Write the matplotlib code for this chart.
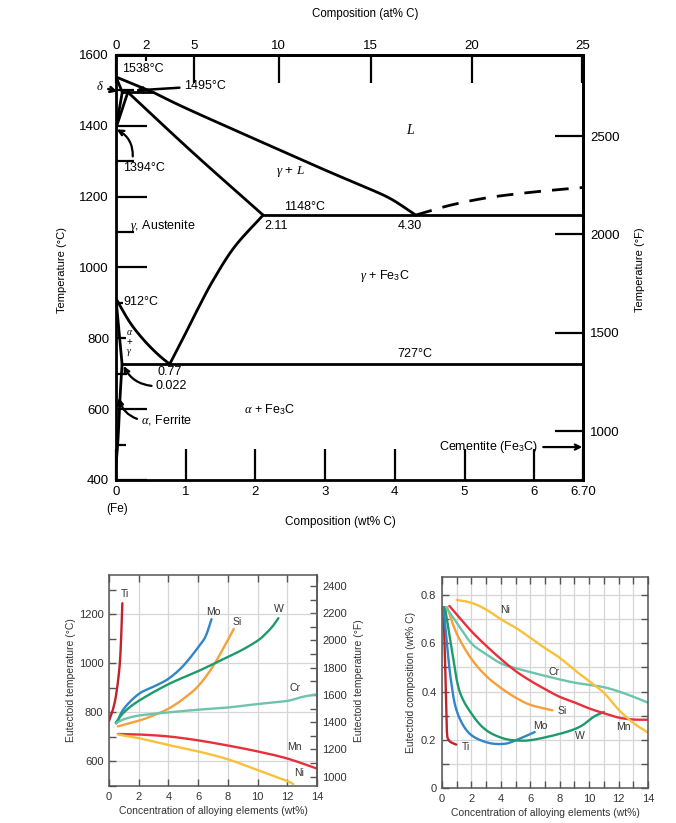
import numpy as np
import matplotlib
matplotlib.use("Agg")
import matplotlib.pyplot as plt
from matplotlib.ticker import MultipleLocator, FixedLocator

plt.rcParams['font.family'] = ['Liberation Sans', 'DejaVu Sans']
plt.rcParams['mathtext.fontset'] = 'custom'
plt.rcParams['mathtext.rm'] = 'Liberation Sans'
plt.rcParams['mathtext.it'] = 'Liberation Serif:italic'
plt.rcParams['mathtext.bf'] = 'Liberation Sans:bold'

# ---------------- Fe-Fe3C diagram data (wt% C, deg C) ----------------
liq_delta_x = [0.0, 0.53]
liq_delta_t = [1538, 1495]
liquidus_x = [0.53, 1.0, 2.0, 3.0, 3.6, 3.95, 4.30]
liquidus_t = [1495, 1450, 1362, 1275, 1225, 1193, 1148]
liq_dash_x = [4.30, 4.8, 5.3, 5.8, 6.3, 6.70]
liq_dash_t = [1148, 1176, 1196, 1209, 1219, 1226]
solidus_x = [0.17, 1.1, 2.11]
solidus_t = [1495, 1325, 1148]
acm_x = [0.77, 1.0, 1.2, 1.4, 1.7, 2.11]
acm_t = [727, 815, 893, 966, 1058, 1148]
a3_x = [0.0, 0.2, 0.4, 0.6, 0.77]
a3_t = [912, 845, 795, 755, 727]
alpha_x = [0.0, 0.087]
alpha_t = [912, 727]
solvus_x = [0.087, 0.06, 0.03, 0.0]
solvus_t = [727, 640, 520, 440]
delta_sol_x = [0.0, 0.09]
delta_sol_t = [1538, 1495]
delta_solv_x = [0.0, 0.09]
delta_solv_t = [1394, 1495]
gamma_top_x = [0.0, 0.17]
gamma_top_t = [1394, 1495]
peritectic_x = [0.09, 0.53]
peritectic_t = [1495, 1495]
eutectic_x = [2.11, 6.70]
eutectic_t = [1148, 1148]
eutectoid_x = [0.087, 6.70]
eutectoid_t = [727, 727]

wt_ticks = [0, 1, 2, 3, 4, 5, 6, 6.70]
wt_ticklabels = ['0', '1', '2', '3', '4', '5', '6', '6.70']
at_ticks_long = [0, 5, 10, 15, 20, 25]
at_ticks_short = [2]
c_ticks = [400, 600, 800, 1000, 1200, 1400, 1600]
c_minor = [500, 700, 900, 1100, 1300, 1500]
f_ticks = [1000, 1500, 2000, 2500]

# ---------------- Alloying element data ----------------
# eutectoid temperature (deg C) vs wt% alloy
ti_x = [0, 0.3, 0.5, 0.7, 0.8, 0.9]
ti_t = [765, 820, 880, 980, 1080, 1245]
mo_x = [0.5, 1, 2, 3, 4, 5, 6, 6.5, 6.9]
mo_t = [755, 815, 875, 905, 937, 990, 1065, 1110, 1180]
si_x = [0.6, 2, 3, 4, 5, 6, 7, 8, 8.4]
si_t = [743, 766, 788, 815, 855, 907, 988, 1095, 1140]
w_x = [0.45, 1, 2, 4, 6, 8, 9, 10, 10.5, 11, 11.4]
w_t = [757, 800, 847, 915, 968, 1026, 1056, 1092, 1118, 1150, 1184]
cr_x = [0.5, 1, 2, 4, 6, 8, 10, 12, 13, 14]
cr_t = [757, 772, 787, 800, 811, 820, 834, 847, 863, 874]
mn_x = [0.6, 2, 4, 6, 8, 10, 12, 14]
mn_t = [712, 710, 702, 686, 665, 641, 612, 571]
ni_x = [0.6, 2, 4, 6, 8, 10, 12, 12.4]
ni_t = [710, 695, 667, 641, 609, 565, 520, 508]

# eutectoid composition (wt% C) vs wt% alloy
ti_cx = [0.1, 0.2, 0.3, 0.35, 0.45, 0.6, 0.97]
ti_c = [0.75, 0.55, 0.30, 0.22, 0.20, 0.19, 0.18]
mo_cx = [0.1, 0.3, 0.6, 1.0, 1.8, 3.0, 4.2, 5.1, 6.3]
mo_c = [0.75, 0.62, 0.45, 0.32, 0.23, 0.19, 0.183, 0.20, 0.232]
w_cx = [0.2, 0.7, 1.2, 2.1, 3.0, 4.1, 5.1, 6.2, 8.2, 9.4, 10.3, 11.0]
w_c = [0.75, 0.56, 0.40, 0.30, 0.24, 0.207, 0.197, 0.20, 0.228, 0.255, 0.295, 0.315]
si_cx = [0.35, 1, 2, 3, 4, 5, 6, 7.5]
si_c = [0.75, 0.64, 0.535, 0.465, 0.415, 0.375, 0.345, 0.322]
cr_cx = [0.27, 1, 2, 3, 4, 5, 7, 9, 11, 12.5, 14]
cr_c = [0.75, 0.685, 0.60, 0.555, 0.517, 0.497, 0.465, 0.437, 0.418, 0.39, 0.354]
mn_cx = [0.5, 1, 2, 3, 4, 5, 6, 7, 8, 9, 10, 11, 12, 13, 14]
mn_c = [0.755, 0.72, 0.65, 0.59, 0.535, 0.485, 0.445, 0.41, 0.378, 0.355, 0.33, 0.31, 0.292, 0.284, 0.283]
ni_cx = [1, 2, 3, 4, 5, 6, 7, 8, 9, 10, 11, 12, 13, 14]
ni_c = [0.78, 0.768, 0.74, 0.70, 0.665, 0.623, 0.58, 0.54, 0.49, 0.443, 0.395, 0.325, 0.27, 0.23]

colors = {'Ti': '#c0232c', 'Mo': '#2f86c8', 'Si': '#f5a03a', 'W': '#1f9b6b',
          'Cr': '#6cc4ac', 'Mn': '#e8303c', 'Ni': '#f9c03a'}

W, H = 676, 823
fig = plt.figure(figsize=(W / 100, H / 100), dpi=100)


def rect(l, t, r, b):
    return [l / W, 1 - b / H, (r - l) / W, (b - t) / H]


def smooth(xs, ys, n=24):
    """Catmull-Rom curve through the given points (display smoothing only)."""
    P = np.column_stack([np.asarray(xs, float), np.asarray(ys, float)])
    if len(P) < 3:
        return P[:, 0], P[:, 1]
    P = np.vstack([2 * P[0] - P[1], P, 2 * P[-1] - P[-2]])
    t = np.linspace(0, 1, n, endpoint=False)[:, None]
    out = []
    for i in range(1, len(P) - 2):
        p0, p1, p2, p3 = P[i - 1], P[i], P[i + 1], P[i + 2]
        seg = 0.5 * (2 * p1 + (-p0 + p2) * t + (2 * p0 - 5 * p1 + 4 * p2 - p3) * t ** 2
                     + (-p0 + 3 * p1 - 3 * p2 + p3) * t ** 3)
        out.append(seg)
    out.append(P[-2][None, :])
    S = np.vstack(out)
    return S[:, 0], S[:, 1]


def wt2at(w):
    w = np.asarray(w, dtype=float)
    a = w / 12.011
    return 100 * a / (a + (100 - w) / 55.845)


def at2wt(a):
    a = np.asarray(a, dtype=float)
    return 100 * a * 12.011 / (a * 12.011 + (100 - a) * 55.845)


def c2f(c):
    return np.asarray(c, dtype=float) * 9 / 5 + 32


def f2c(f):
    return (np.asarray(f, dtype=float) - 32) * 5 / 9


# ================= Top: Fe-Fe3C phase diagram =================
ax = fig.add_axes(rect(116, 55, 583, 480))
ax.set_xlim(0, 6.70)
ax.set_ylim(400, 1600)
lw = 2.0
k = 'black'
for xs, ts in [(liq_delta_x, liq_delta_t), (liquidus_x, liquidus_t), (solidus_x, solidus_t),
               (acm_x, acm_t), (a3_x, a3_t), (alpha_x, alpha_t), (solvus_x, solvus_t),
               (delta_sol_x, delta_sol_t), (delta_solv_x, delta_solv_t),
               (gamma_top_x, gamma_top_t), (peritectic_x, peritectic_t),
               (eutectic_x, eutectic_t), (eutectoid_x, eutectoid_t)]:
    sx, st = smooth(xs, ts)
    ax.plot(sx, st, color=k, lw=lw, solid_capstyle='round', solid_joinstyle='round')
sx, st = smooth(liq_dash_x, liq_dash_t)
ax.plot(sx, st, color=k, lw=lw, dashes=(6, 4))

for s in ax.spines.values():
    s.set_linewidth(2)
ax.set_xticks(wt_ticks)
ax.set_xticklabels(wt_ticklabels)
ax.set_yticks(c_ticks)
ax.yaxis.set_minor_locator(FixedLocator(c_minor))
ax.tick_params(axis='both', which='major', direction='in', length=22, width=1.6,
               labelsize=9.5, pad=5)
ax.tick_params(axis='y', which='minor', direction='in', length=13, width=1.6)
ax.tick_params(axis='x', pad=4)
# shorter ticks where labels sit close to the axis (as drawn in the reference)
ax.yaxis.get_major_ticks()[2].tick1line.set_markersize(7)
mts = ax.yaxis.get_minor_ticks()
mts[0].tick1line.set_markersize(7)
mts[1].tick1line.set_markersize(8)
mts[2].tick1line.set_markersize(5)

sec = ax.secondary_xaxis('top', functions=(wt2at, at2wt))
sec.set_xticks(at_ticks_long)
sec.tick_params(direction='in', length=20, width=1.6, labelsize=9.5, pad=2)
sec.spines['top'].set_linewidth(2)
sec_s = ax.secondary_xaxis('top', functions=(wt2at, at2wt))
sec_s.set_xticks(at_ticks_short)
sec_s.tick_params(direction='in', length=4, width=1.6, labelsize=9.5, pad=2)
sec_s.spines['top'].set_linewidth(2)

secy = ax.secondary_yaxis('right', functions=(c2f, f2c))
secy.set_yticks(f_ticks)
secy.tick_params(direction='in', length=20, width=1.6, labelsize=9.5, pad=5)
secy.spines['right'].set_linewidth(2)

fig.text(365 / W, 1 - 14 / H, 'Composition (at% C)', ha='center', va='center', fontsize=8.3)
fig.text(340 / W, 1 - 522 / H, 'Composition (wt% C)', ha='center', va='center', fontsize=8.5)
fig.text(62 / W, 1 - 270 / H, 'Temperature (°C)', ha='center', va='center', fontsize=8, rotation=90)
fig.text(640 / W, 1 - 270 / H, 'Temperature (°F)', ha='center', va='center', fontsize=8, rotation=90)
fig.text(117 / W, 1 - 509 / H, '(Fe)', ha='center', va='center', fontsize=8.5)

fs = 9
ax.text(0.09, 1560, '1538°C', fontsize=fs, ha='left', va='center')
ax.annotate('1495°C', xy=(0.28, 1500), xytext=(0.97, 1512), fontsize=fs, va='center',
            arrowprops=dict(arrowstyle='->', lw=1.8, color=k, shrinkA=1, shrinkB=0))
ax.annotate(r'$\delta$', xy=(0.02, 1497), xytext=(-0.17, 1510), fontsize=fs, va='center',
            ha='right', annotation_clip=False,
            arrowprops=dict(arrowstyle='->', lw=1.8, color=k, shrinkA=1, shrinkB=0))
ax.annotate('1394°C', xy=(0.01, 1390), xytext=(0.1, 1281), fontsize=fs, va='center', ha='left',
            arrowprops=dict(arrowstyle='->', lw=1.6, color=k, shrinkA=2, shrinkB=0,
                            connectionstyle='arc3,rad=0.35', relpos=(0.22, 1.0)))
ax.text(2.5, 1270, r'$\gamma$ + $L$', fontsize=fs + 0.5, ha='center', va='center')
ax.text(4.22, 1388, r'$L$', fontsize=fs + 1, ha='center', va='center')
ax.text(2.71, 1171, '1148°C', fontsize=fs, ha='center', va='center')
ax.text(2.13, 1117, '2.11', fontsize=fs, ha='left', va='center')
ax.text(4.22, 1117, '4.30', fontsize=fs, ha='center', va='center')
ax.text(0.2, 1117, r'$\gamma$, Austenite', fontsize=fs, ha='left', va='center')
ax.text(3.86, 976, r'$\gamma$ + Fe$_3$C', fontsize=fs, ha='center', va='center')
ax.text(0.1, 903, '912°C', fontsize=fs, ha='left', va='center')
ax.text(0.19, 818, r'$\alpha$', fontsize=7, ha='center', va='center')
ax.text(0.19, 789, '+', fontsize=7, ha='center', va='center')
ax.text(0.19, 759, r'$\gamma$', fontsize=7, ha='center', va='center')
ax.text(4.29, 756, '727°C', fontsize=fs, ha='center', va='center')
ax.text(0.77, 706, '0.77', fontsize=fs, ha='center', va='center')
ax.annotate('0.022', xy=(0.11, 722), xytext=(0.57, 665), fontsize=fs, ha='left', va='center',
            arrowprops=dict(arrowstyle='->', lw=1.6, color=k, shrinkA=1, shrinkB=0,
                            connectionstyle='arc3,rad=-0.3', relpos=(0.0, 0.5)))
ax.text(2.21, 598, r'$\alpha$ + Fe$_3$C', fontsize=fs, ha='center', va='center')
ax.annotate(r'$\alpha$, Ferrite', xy=(0.04, 632), xytext=(0.36, 569), fontsize=fs,
            ha='left', va='center',
            arrowprops=dict(arrowstyle='->', lw=1.6, color=k, shrinkA=1, shrinkB=0,
                            connectionstyle='arc3,rad=-0.3', relpos=(0.0, 0.5)))
ax.annotate('Cementite (Fe$_3$C)', xy=(6.69, 493), xytext=(6.05, 493), fontsize=fs,
            ha='right', va='center',
            arrowprops=dict(arrowstyle='->', lw=1.6, color=k, shrinkA=2, shrinkB=0))

# ================= Bottom-left: eutectoid temperature =================
tc = '#333333'
sc = '#555555'
gc = '#d6d6d6'
ax2 = fig.add_axes(rect(109, 575, 317, 786))
ax2.set_xlim(0, 14)
ax2.set_ylim(500, 1360)
ax2.set_xticks(range(0, 15, 2))
ax2.set_yticks([600, 800, 1000, 1200])
ax2.yaxis.set_minor_locator(MultipleLocator(100))
ax2.grid(True, which='major', color=gc, lw=0.9)
ax2.set_axisbelow(True)
ax2.tick_params(which='both', direction='in', length=5, width=1, color=sc, top=True,
                labelsize=8, labelcolor=tc, pad=4)
for s in ax2.spines.values():
    s.set_color(sc)
    s.set_linewidth(1.1)
for name, xs, ts in [('Ti', ti_x, ti_t), ('Mo', mo_x, mo_t), ('Si', si_x, si_t),
                     ('W', w_x, w_t), ('Cr', cr_x, cr_t), ('Mn', mn_x, mn_t),
                     ('Ni', ni_x, ni_t)]:
    sx, st = smooth(xs, ts)
    ax2.plot(sx, st, color=colors[name], lw=1.7, solid_capstyle='round')
lab_t = {'Ti': (1.05, 1283), 'Mo': (7.0, 1208), 'Si': (8.6, 1170), 'W': (11.4, 1222),
         'Cr': (12.5, 898), 'Mn': (12.5, 658), 'Ni': (12.8, 553)}
for name, (x, y) in lab_t.items():
    ax2.text(x, y, name, fontsize=7.5, color=tc, ha='center', va='center')
sy2 = ax2.secondary_yaxis('right', functions=(c2f, f2c))
sy2.set_yticks(range(1000, 2401, 200))
sy2.yaxis.set_minor_locator(MultipleLocator(100))
sy2.tick_params(which='both', direction='in', length=5, width=1, color=sc,
                labelsize=8, labelcolor=tc, pad=4)
sy2.spines['right'].set_color(sc)
sy2.spines['right'].set_linewidth(1.1)
ax2.set_xlabel('Concentration of alloying elements (wt%)', fontsize=7.5, color=tc, labelpad=3)
ax2.set_ylabel('Eutectoid temperature (°C)', fontsize=7.5, color=tc, labelpad=2)
sy2.set_ylabel('Eutectoid temperature (°F)', fontsize=7.5, color=tc, labelpad=5)

# ================= Bottom-right: eutectoid composition =================
ax3 = fig.add_axes(rect(442, 577, 648, 788))
ax3.set_xlim(0, 14)
ax3.set_ylim(0, 0.875)
ax3.set_xticks(range(0, 15, 2))
ax3.xaxis.set_minor_locator(MultipleLocator(1))
ax3.set_yticks([0, 0.2, 0.4, 0.6, 0.8])
ax3.set_yticklabels(['0', '0.2', '0.4', '0.6', '0.8'])
ax3.yaxis.set_minor_locator(MultipleLocator(0.1))
ax3.grid(True, which='both', color=gc, lw=0.9)
ax3.set_axisbelow(True)
ax3.tick_params(which='both', direction='in', length=5, width=1, color=sc, top=True,
                right=True, labelsize=8, labelcolor=tc, pad=4)
for s in ax3.spines.values():
    s.set_color(sc)
    s.set_linewidth(1.1)
for name, xs, cs in [('Ti', ti_cx, ti_c), ('Mo', mo_cx, mo_c), ('Si', si_cx, si_c),
                     ('W', w_cx, w_c), ('Cr', cr_cx, cr_c), ('Mn', mn_cx, mn_c),
                     ('Ni', ni_cx, ni_c)]:
    sx, sc_ = smooth(xs, cs)
    ax3.plot(sx, sc_, color=colors[name], lw=1.7, solid_capstyle='round')
lab_c = {'Ni': (4.3, 0.74), 'Cr': (7.6, 0.483), 'Si': (8.2, 0.32), 'Mo': (6.7, 0.258),
         'W': (9.4, 0.214), 'Mn': (12.3, 0.252), 'Ti': (1.6, 0.172)}
for name, (x, y) in lab_c.items():
    ax3.text(x, y, name, fontsize=7.5, color=tc, ha='center', va='center')
ax3.set_xlabel('Concentration of alloying elements (wt%)', fontsize=7.5, color=tc, labelpad=3)
ax3.set_ylabel('Eutectoid composition (wt% C)', fontsize=7.5, color=tc, labelpad=4)

fig.savefig('out.png', dpi=100)
